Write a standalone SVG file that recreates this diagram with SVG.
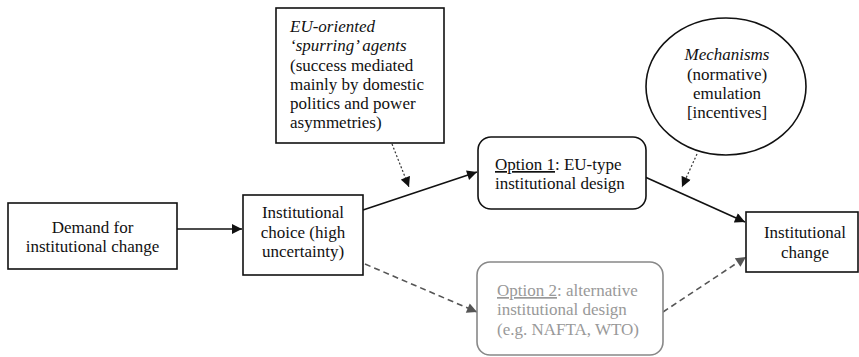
<svg xmlns="http://www.w3.org/2000/svg" width="859" height="357" viewBox="0 0 859 357">
<defs>
<style>
.c{text-anchor:middle}
.box{fill:#fff;stroke:#111;stroke-width:1.6}
.gbox{fill:#fff;stroke:#888;stroke-width:1.6}
.solid{stroke:#111;stroke-width:1.6;fill:none}
.dot{stroke:#333;stroke-width:1.2;stroke-dasharray:2 2;fill:none}
.dash{stroke:#555;stroke-width:1.6;stroke-dasharray:6 4;fill:none}
</style>
<marker id="ah" viewBox="0 0 10 10" refX="10" refY="5" markerWidth="11" markerHeight="10" markerUnits="userSpaceOnUse" orient="auto"><path d="M0,0 L10,5 L0,10 z" fill="#111"/></marker>
<marker id="ahg" viewBox="0 0 10 10" refX="10" refY="5" markerWidth="11" markerHeight="10" markerUnits="userSpaceOnUse" orient="auto"><path d="M0,0 L10,5 L0,10 z" fill="#555"/></marker>
</defs>
<g id="connectors">
<line class="solid" x1="177" y1="229" x2="242" y2="229" marker-end="url(#ah)"/>
<line class="solid" x1="363" y1="210" x2="477" y2="172" marker-end="url(#ah)"/>
<line class="solid" x1="645" y1="177" x2="745" y2="222" marker-end="url(#ah)"/>
<line class="dot" x1="392" y1="144" x2="409" y2="187" marker-end="url(#ah)"/>
<line class="dot" x1="697" y1="154" x2="682" y2="187" marker-end="url(#ah)"/>
<line class="dash" x1="365" y1="264" x2="477" y2="312" marker-end="url(#ahg)"/>
<line class="dash" x1="663" y1="312" x2="746" y2="257" marker-end="url(#ahg)"/>
</g>
<g font-family="Liberation Serif, Times New Roman, serif" font-size="17" fill="#111">
<g id="demand">
<rect class="box" x="8" y="203" width="169" height="66"/>
<text class="c" x="92.5" y="233">Demand for</text>
<text class="c" x="92.5" y="252">institutional change</text>
</g>
<g id="choice">
<rect class="box" x="243" y="195" width="120" height="80"/>
<text class="c" x="303" y="218">Institutional</text>
<text class="c" x="303" y="238">choice (high</text>
<text class="c" x="303" y="257">uncertainty)</text>
</g>
<g id="agents">
<rect class="box" x="276" y="8" width="168" height="135"/>
<text x="290" y="32" font-style="italic">EU-oriented</text>
<text x="290" y="51" font-style="italic">‘spurring’ agents</text>
<text x="290" y="71">(success mediated</text>
<text x="290" y="90">mainly by domestic</text>
<text x="290" y="109">politics and power</text>
<text x="290" y="128">asymmetries)</text>
</g>
<g id="option1">
<rect class="box" x="478" y="137" width="168" height="72" rx="13"/>
<text x="495" y="170"><tspan text-decoration="underline">Option 1</tspan>: EU-type</text>
<text x="495" y="189">institutional design</text>
</g>
<g id="mechanisms">
<ellipse class="box" cx="726" cy="86.5" rx="80" ry="68.5"/>
<text class="c" x="727" y="60" font-style="italic">Mechanisms</text>
<text class="c" x="727" y="80">(normative)</text>
<text class="c" x="727" y="99">emulation</text>
<text class="c" x="727" y="118">[incentives]</text>
</g>
<g id="change">
<rect class="box" x="746" y="212" width="112" height="60"/>
<text class="c" x="805" y="238">Institutional</text>
<text class="c" x="805" y="258">change</text>
</g>
<g id="option2" fill="#999">
<rect class="gbox" x="477" y="262" width="186" height="93" rx="13"/>
<text x="497" y="296"><tspan text-decoration="underline">Option 2</tspan>: alternative</text>
<text x="497" y="315">institutional design</text>
<text x="497" y="335">(e.g. NAFTA, WTO)</text>
</g>
</g>
</svg>
